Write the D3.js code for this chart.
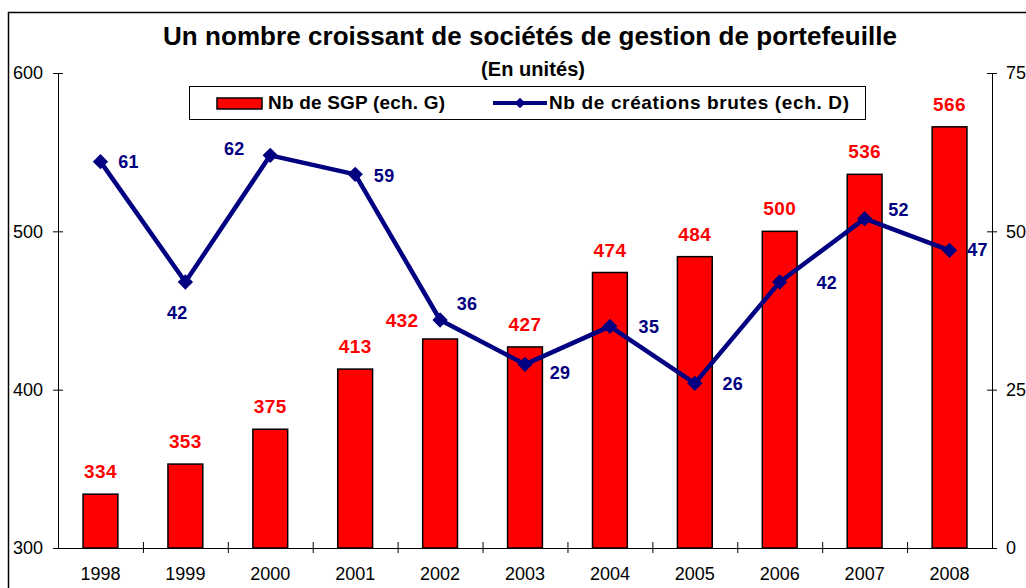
<!DOCTYPE html>
<html>
<head>
<meta charset="utf-8">
<script src="https://cdn.jsdelivr.net/npm/d3@7"></script>
<style>
  body { margin: 0; background: #fff; }
  svg text { font-family: "Liberation Sans", Arial, sans-serif; }
</style>
</head>
<body>
<div id="chart"></div>
<script>
// Chart data
const years = ['1998', '1999', '2000', '2001', '2002', '2003', '2004', '2005', '2006', '2007', '2008'];
const sgp = [334, 353, 375, 413, 432, 427, 474, 484, 500, 536, 566];        // left scale
const creations = [61, 42, 62, 59, 36, 29, 35, 26, 42, 52, 47];            // right scale
const leftTicks = [300, 400, 500, 600];
const rightTicks = [0, 25, 50, 75];

// label offsets for the line values (dx, dy of label centre from the point)
const lineLabelPos = [[28, 0], [-8, 30], [-36, -7], [29, 1], [27, -17], [35, 8], [39, 0], [38, 0], [47, 0], [34, -9], [28, -1]];

const W = 1026, H = 588;
const m = { left: 58, right: 992, top: 73, bottom: 548 };

const svg = d3.select('#chart').append('svg')
  .attr('width', W)
  .attr('height', H);

// outer frame of the chart (runs off the picture on right and bottom)
svg.append('rect')
  .attr('x', 8.5).attr('y', 12.5)
  .attr('width', 1040).attr('height', 600)
  .attr('fill', 'none').attr('stroke', '#000').attr('stroke-width', 1.5);

const x = d3.scaleBand().domain(years).range([m.left, m.right]).paddingInner(0.59).paddingOuter(0.295);
const xTicks = d3.scaleBand().domain(years).range([m.left, m.right]);
const yL = d3.scaleLinear().domain([300, 600]).range([m.bottom, m.top]);
const yR = d3.scaleLinear().domain([0, 75]).range([m.bottom, m.top]);

// title
svg.append('text')
  .attr('x', 530).attr('y', 45)
  .attr('text-anchor', 'middle')
  .attr('font-size', 26).attr('font-weight', 'bold')
  .attr('textLength', 734).attr('lengthAdjust', 'spacing')
  .text('Un nombre croissant de sociétés de gestion de portefeuille');
svg.append('text')
  .attr('x', 533).attr('y', 75.5)
  .attr('text-anchor', 'middle')
  .attr('font-size', 20).attr('font-weight', 'bold')
  .attr('textLength', 104).attr('lengthAdjust', 'spacing')
  .text('(En unités)');

// bars
svg.selectAll('.bar')
  .data(sgp)
  .enter().append('rect')
    .attr('class', 'bar')
    .attr('x', (d, i) => x(years[i]))
    .attr('y', d => yL(d))
    .attr('width', x.bandwidth())
    .attr('height', d => yL(300) - yL(d))
    .attr('fill', '#ff0000')
    .attr('stroke', '#000')
    .attr('stroke-width', 1.5);

// axes
const axisLeft = d3.axisLeft(yL).tickValues(leftTicks).tickSize(0).tickPadding(15);
const gL = svg.append('g').attr('transform', `translate(${m.left},0)`).call(axisLeft);
const axisRight = d3.axisRight(yR).tickValues(rightTicks).tickSize(0).tickPadding(14);
const gR = svg.append('g').attr('transform', `translate(${m.right},0)`).call(axisRight);
const axisBottom = d3.axisBottom(xTicks).tickSize(0).tickPadding(19);
const gB = svg.append('g').attr('transform', `translate(0,${m.bottom})`).call(axisBottom);

[gL, gR, gB].forEach(g => {
  g.select('.domain').attr('stroke', '#000').attr('stroke-width', 1);
  g.selectAll('text').attr('font-size', 18).attr('font-family', '"Liberation Sans", Arial, sans-serif').attr('fill', '#000');
});

// cross ticks
gL.selectAll('.tick').append('line').attr('x1', -5).attr('x2', 5).attr('stroke', '#000');
gR.selectAll('.tick').append('line').attr('x1', -5).attr('x2', 5).attr('stroke', '#000');
svg.selectAll('.xtick')
  .data(years.slice(1))
  .enter().append('line')
    .attr('x1', d => xTicks(d) + 0.5).attr('x2', d => xTicks(d) + 0.5)
    .attr('y1', m.bottom - 6).attr('y2', m.bottom + 5)
    .attr('stroke', '#000');

// bar labels
svg.selectAll('.barlabel')
  .data(sgp)
  .enter().append('text')
    .attr('class', 'barlabel')
    .attr('x', (d, i) => x(years[i]) + x.bandwidth() / 2 + (i === 4 ? -38 : 0))
    .attr('y', (d, i) => yL(d) - (i === 4 ? 12 : 16))
    .attr('text-anchor', 'middle')
    .attr('font-size', 19).attr('font-weight', 'bold')
    .attr('letter-spacing', 0.4)
    .attr('fill', '#ff0000')
    .text(d => d);

// line series
const cx = i => x(years[i]) + x.bandwidth() / 2;
const line = d3.line().x((d, i) => cx(i)).y(d => yR(d));
svg.append('path')
  .datum(creations)
  .attr('d', line)
  .attr('fill', 'none')
  .attr('stroke', '#000080')
  .attr('stroke-width', 4.5)
  .attr('stroke-linejoin', 'round');

const diamond = d3.symbol().type(d3.symbolDiamond2).size(150);
svg.selectAll('.pt')
  .data(creations)
  .enter().append('path')
    .attr('class', 'pt')
    .attr('d', diamond)
    .attr('transform', (d, i) => `translate(${cx(i)},${yR(d)})`)
    .attr('fill', '#000080');

svg.selectAll('.linelabel')
  .data(creations)
  .enter().append('text')
    .attr('class', 'linelabel')
    .attr('x', (d, i) => cx(i) + lineLabelPos[i][0])
    .attr('y', (d, i) => yR(d) + lineLabelPos[i][1] + 6.5)
    .attr('text-anchor', 'middle')
    .attr('font-size', 18).attr('font-weight', 'bold')
    .attr('letter-spacing', 0.3)
    .attr('fill', '#000080')
    .text(d => d);

// legend
const lg = svg.append('g');
lg.append('rect')
  .attr('x', 189.5).attr('y', 86.5).attr('width', 676).attr('height', 33)
  .attr('fill', '#fff').attr('stroke', '#000').attr('stroke-width', 1);
lg.append('rect')
  .attr('x', 217).attr('y', 98).attr('width', 45).attr('height', 11)
  .attr('fill', '#ff0000').attr('stroke', '#000').attr('stroke-width', 1.5);
lg.append('text')
  .attr('x', 268).attr('y', 109)
  .attr('font-size', 19).attr('font-weight', 'bold')
  .attr('textLength', 177).attr('lengthAdjust', 'spacing')
  .text('Nb de SGP (ech. G)');
lg.append('line')
  .attr('x1', 493).attr('x2', 547).attr('y1', 103).attr('y2', 103)
  .attr('stroke', '#000080').attr('stroke-width', 4);
lg.append('path')
  .attr('d', d3.symbol().type(d3.symbolDiamond2).size(70))
  .attr('transform', 'translate(520,103)')
  .attr('fill', '#000080');
lg.append('text')
  .attr('x', 549).attr('y', 109)
  .attr('font-size', 19).attr('font-weight', 'bold')
  .attr('textLength', 300).attr('lengthAdjust', 'spacing')
  .text('Nb de créations brutes (ech. D)');
</script>
</body>
</html>
